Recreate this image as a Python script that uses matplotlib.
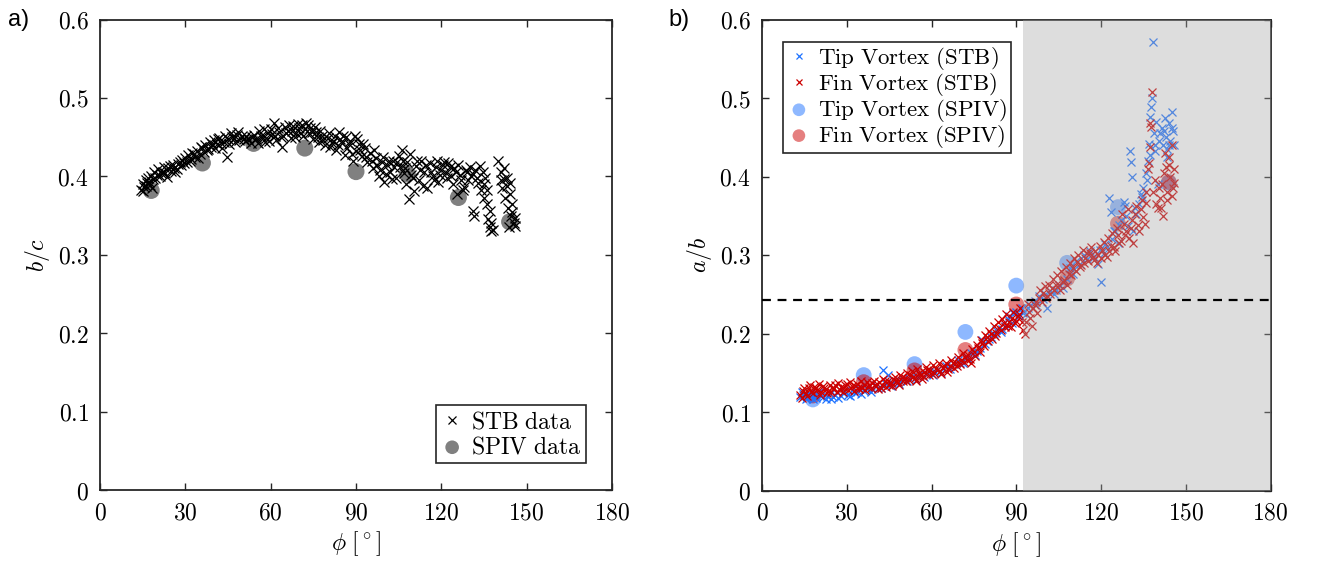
import matplotlib
matplotlib.use("Agg")
import matplotlib.pyplot as plt
import numpy as np

plt.rcParams['mathtext.fontset'] = 'cm'
plt.rcParams['font.family'] = ['DejaVu Serif']

# ---------------- data: panel a) ----------------
stb_a_phi = [14.5, 15, 15.5, 16, 16.5, 17, 17.5, 18, 18.5, 19, 20, 20.5, 21, 22, 22.5, 23, 24, 25, 25.5, 26,
             27, 28, 28.5, 29, 30, 30.5, 31, 32, 33, 33.5, 34, 35, 36, 36.5, 37, 38, 38.5, 39, 40, 41,
             42, 42.5, 43, 44, 44.5, 45, 46, 47, 48, 49, 50, 51, 52, 53, 54, 55, 56, 57, 58, 59,
             60, 61, 61.5, 62, 63, 64, 64.5, 65, 66, 67, 68, 69, 70, 71, 71.5, 72, 73, 73.5, 74, 75,
             76, 77, 78, 79, 80, 81, 82, 83, 84, 85, 86, 86.5, 87, 88, 89, 89.5, 90, 91, 92, 93,
             94, 95, 96, 97, 98, 99, 100, 101, 102, 103, 104, 105, 105.5, 106, 107, 107.5, 108, 108.7, 109, 110,
             110.5, 111, 112, 113, 114, 115, 116, 117, 118, 119, 120, 121, 122, 123, 124, 125, 125.5, 126, 127, 128,
             128.5, 130, 130.5, 131, 131.5, 132, 133, 133.5, 134, 135, 135.5, 136, 136.5, 137, 137.5, 138, 140, 141, 141.5, 142,
             142.5, 143, 143.5, 144, 144.5, 145, 145.5, 146]
stb_a_bc = [0.383, 0.390, 0.386, 0.395, 0.392, 0.398, 0.389, 0.401, 0.396, 0.405, 0.402, 0.409, 0.400, 0.406, 0.412, 0.404, 0.410, 0.407, 0.414, 0.411,
            0.409, 0.418, 0.414, 0.421, 0.424, 0.418, 0.427, 0.422, 0.428, 0.425, 0.432, 0.429, 0.436, 0.431, 0.440, 0.435, 0.444, 0.438, 0.446, 0.441,
            0.449, 0.443, 0.436, 0.452, 0.425, 0.447, 0.455, 0.449, 0.453, 0.446, 0.451, 0.445, 0.448, 0.442, 0.453, 0.447, 0.458, 0.450, 0.444, 0.455,
            0.460, 0.468, 0.452, 0.446, 0.457, 0.437, 0.452, 0.463, 0.458, 0.449, 0.464, 0.455, 0.461, 0.466, 0.452, 0.460, 0.466, 0.455, 0.462, 0.448,
            0.456, 0.444, 0.452, 0.440, 0.449, 0.437, 0.445, 0.433, 0.456, 0.442, 0.427, 0.450, 0.436, 0.445, 0.420, 0.452, 0.432, 0.441, 0.426, 0.436,
            0.418, 0.430, 0.410, 0.424, 0.400, 0.418, 0.393, 0.414, 0.405, 0.420, 0.398, 0.426, 0.412, 0.433, 0.404, 0.390, 0.418, 0.371, 0.428, 0.398,
            0.381, 0.413, 0.395, 0.420, 0.405, 0.385, 0.417, 0.400, 0.412, 0.393, 0.408, 0.418, 0.398, 0.412, 0.390, 0.405, 0.378, 0.415, 0.395, 0.386,
            0.408, 0.412, 0.401, 0.356, 0.349, 0.408, 0.392, 0.413, 0.383, 0.372, 0.398, 0.365, 0.345, 0.335, 0.340, 0.332, 0.419, 0.405, 0.385, 0.396,
            0.372, 0.388, 0.360, 0.378, 0.350, 0.365, 0.340, 0.337]
stb_a_phi_more = [15.2, 16.2, 17.2, 18.2, 19.5, 21.5, 23.5, 24.5, 26.5, 27.5, 29.5, 31.5, 32.5, 34.5, 35.5, 37.5, 39.5, 40.5, 41.5, 43.5,
                  45.5, 46.5, 47.5, 48.5, 50.5, 51.5, 53.5, 55.5, 56.5, 57.5, 58.5, 59.5, 60.5, 62.5, 63.5, 65.5, 66.5, 67.5, 68.5, 69.5,
                  70.5, 72.5, 74.5, 75.5, 76.5, 77.5, 78.5, 80.5, 81.5, 82.5, 83.5, 84.5, 85.5, 87.5, 88.5, 90.5, 91.5, 92.5, 93.5, 95.5,
                  96.5, 97.5, 98.5, 99.5, 100.5, 101.5, 102.5, 103.5, 104.5, 106.5, 107.2, 109.5, 111.5, 112.5, 113.5, 114.5, 116.5, 117.5, 118.5, 119.5,
                  120.5, 121.5, 122.5, 123.5, 124.5, 126.5, 127.5, 129, 129.5, 131, 132.5, 134.5, 135, 136, 137, 137.5, 141, 142, 143, 144,
                  145, 146, 143.8]
stb_a_bc_more = [0.381, 0.388, 0.393, 0.385, 0.398, 0.404, 0.399, 0.413, 0.405, 0.416, 0.417, 0.420, 0.430, 0.424, 0.437, 0.433, 0.441, 0.436, 0.447, 0.444,
                 0.441, 0.450, 0.444, 0.457, 0.447, 0.452, 0.450, 0.443, 0.452, 0.460, 0.449, 0.445, 0.454, 0.461, 0.450, 0.455, 0.466, 0.458, 0.450, 0.467,
                 0.455, 0.468, 0.457, 0.463, 0.450, 0.458, 0.446, 0.455, 0.443, 0.451, 0.440, 0.447, 0.452, 0.441, 0.429, 0.447, 0.433, 0.441, 0.425, 0.420,
                 0.434, 0.414, 0.408, 0.425, 0.403, 0.420, 0.397, 0.412, 0.418, 0.420, 0.410, 0.402, 0.420, 0.408, 0.388, 0.414, 0.405, 0.395, 0.419, 0.402,
                 0.414, 0.404, 0.417, 0.400, 0.411, 0.402, 0.383, 0.405, 0.395, 0.403, 0.398, 0.405, 0.390, 0.382, 0.356, 0.330, 0.395, 0.410, 0.398, 0.392,
                 0.355, 0.347, 0.335]
spiv_phi = [18, 36, 54, 72, 90, 108, 126, 144]
spiv_a_bc = [0.382, 0.417, 0.442, 0.436, 0.406, 0.403, 0.373, 0.342]

# ---------------- data: panel b) ----------------
tip_phi = [13.5, 14.5, 15.5, 16.5, 17.5, 19, 20, 21, 22.5, 24, 25, 26.5, 28, 29, 30.5, 32, 33, 34.5, 36, 37.5,
           39, 40.5, 42, 43, 44, 45.5, 47, 48.5, 50, 51.5, 53, 54.5, 56, 57.5, 59, 60.5, 62, 63.5, 65, 66.5,
           68, 69.5, 71, 72.5, 74, 75.5, 77, 78, 79, 80.5, 82, 83, 84.5, 86, 87, 88.5, 90, 91, 92, 93.5,
           95, 96.5, 98, 99.5, 101, 102, 103.5, 105, 106.5, 108, 109, 110, 111, 112.5, 114, 115, 116, 117.5, 119, 120,
           121, 122, 123, 123.5, 124, 125, 126, 127, 128, 128.6, 129.5, 130.4, 130.6, 130.8, 131.5, 132.5, 133.5, 134.6, 135, 136,
           136.5, 137, 137.2, 137.5, 137.8, 138, 138.4, 138.6, 139, 139.5, 140, 141, 141.5, 142, 142.5, 143, 143.5, 144, 144.5, 145,
           145.5, 146]
tip_ab = [0.119, 0.122, 0.117, 0.124, 0.120, 0.118, 0.126, 0.121, 0.117, 0.123, 0.119, 0.125, 0.120, 0.127, 0.122, 0.128, 0.124, 0.130, 0.127, 0.132,
          0.129, 0.134, 0.131, 0.153, 0.136, 0.133, 0.139, 0.136, 0.142, 0.139, 0.145, 0.141, 0.148, 0.144, 0.151, 0.147, 0.154, 0.150, 0.158, 0.155,
          0.161, 0.166, 0.163, 0.170, 0.175, 0.172, 0.181, 0.192, 0.186, 0.193, 0.199, 0.205, 0.202, 0.210, 0.218, 0.214, 0.228, 0.222, 0.232, 0.225,
          0.236, 0.241, 0.248, 0.244, 0.232, 0.254, 0.250, 0.262, 0.258, 0.270, 0.284, 0.276, 0.292, 0.288, 0.300, 0.295, 0.305, 0.298, 0.288, 0.265,
          0.302, 0.310, 0.373, 0.355, 0.320, 0.330, 0.315, 0.345, 0.368, 0.362, 0.337, 0.432, 0.419, 0.400, 0.330, 0.352, 0.365, 0.374, 0.385, 0.405,
          0.420, 0.441, 0.427, 0.476, 0.488, 0.500, 0.571, 0.455, 0.440, 0.470, 0.390, 0.455, 0.462, 0.440, 0.475, 0.450, 0.435, 0.468, 0.445, 0.482,
          0.458, 0.440]
tip_phi_more = [14, 15, 16, 17, 18, 18.5, 19.5, 21.5, 23, 24.5, 26, 27, 28.5, 31, 33.5, 35, 37, 38.5, 41, 44.5,
                46, 49, 52, 55, 58, 61, 64, 67, 70, 73, 76, 79.5, 81, 85, 87.5, 89, 92.5, 94, 97, 100,
                104, 107, 110.5, 113, 116.5, 119.5, 121.5, 124.5, 126.5, 129, 132, 134, 136.2, 139.2, 140.5, 142.2, 143.2, 144.2, 145.2]
tip_ab_more = [0.125, 0.121, 0.118, 0.123, 0.116, 0.121, 0.124, 0.119, 0.121, 0.117, 0.122, 0.118, 0.124, 0.120, 0.126, 0.123, 0.129, 0.125, 0.131, 0.147,
               0.137, 0.140, 0.143, 0.146, 0.149, 0.152, 0.156, 0.159, 0.163, 0.168, 0.178, 0.190, 0.196, 0.206, 0.222, 0.226, 0.226, 0.232, 0.236, 0.250,
               0.256, 0.265, 0.282, 0.296, 0.300, 0.306, 0.314, 0.330, 0.338, 0.350, 0.360, 0.378, 0.395, 0.432, 0.445, 0.458, 0.425, 0.440, 0.462]
fin_phi = [13.5, 14.5, 15.5, 16.5, 17.5, 18.5, 19.5, 21, 22, 23.5, 25, 26, 27.5, 29, 30, 31.5, 33, 34.5, 36, 37.5,
           39, 40.5, 42, 43.5, 45, 46.5, 48, 49.5, 51, 52.5, 54, 55.5, 57, 58.5, 60, 61.5, 63, 64.5, 66, 67.5,
           69, 70.5, 72, 73.5, 75, 76.5, 78, 79.5, 81, 82.5, 84, 85.5, 87, 88.5, 90, 91, 92.5, 93.5, 94.5, 95.5,
           96.5, 98, 99.5, 101, 102.5, 104, 105.5, 107, 108.5, 110, 111.5, 113, 114.5, 116, 117.5, 119, 120.5, 122, 123.5, 125,
           126, 127, 128, 129, 130, 131, 132, 133, 134, 135, 136, 136.5, 137, 137.2, 137.5, 137.8, 138, 138.5, 139, 140,
           141, 141.5, 142, 142.5, 143, 143.5, 144, 144.5, 145, 145.5, 146]
fin_ab = [0.122, 0.127, 0.124, 0.130, 0.126, 0.132, 0.128, 0.125, 0.131, 0.127, 0.129, 0.134, 0.128, 0.131, 0.136, 0.130, 0.133, 0.129, 0.135, 0.132,
          0.137, 0.133, 0.131, 0.139, 0.135, 0.142, 0.138, 0.144, 0.140, 0.147, 0.143, 0.150, 0.146, 0.153, 0.149, 0.156, 0.152, 0.159, 0.155, 0.162,
          0.158, 0.166, 0.170, 0.167, 0.176, 0.181, 0.188, 0.195, 0.200, 0.197, 0.207, 0.213, 0.210, 0.220, 0.216, 0.225, 0.205, 0.215, 0.228, 0.210,
          0.236, 0.245, 0.252, 0.248, 0.258, 0.262, 0.255, 0.268, 0.276, 0.283, 0.291, 0.287, 0.296, 0.302, 0.294, 0.300, 0.307, 0.298, 0.312, 0.305,
          0.325, 0.318, 0.340, 0.331, 0.322, 0.345, 0.352, 0.338, 0.358, 0.348, 0.366, 0.410, 0.417, 0.438, 0.468, 0.463, 0.508, 0.380, 0.395, 0.360,
          0.372, 0.390, 0.350, 0.430, 0.412, 0.380, 0.425, 0.400, 0.440, 0.385, 0.410]
fin_phi_more = [14, 15, 16, 17, 18, 19, 20, 20.5, 21.5, 22.5, 23, 24, 24.5, 25.5, 26.5, 27, 28, 28.5, 29.5, 30.5,
                31, 32, 32.5, 33.5, 34, 35, 35.5, 36.5, 37, 38, 38.5, 39.5, 40, 41, 41.5, 42.5, 43, 44, 44.5, 45.5,
                46, 47, 47.5, 48.5, 49, 50, 50.5, 51.5, 52, 53, 53.5, 54.5, 55, 56, 56.5, 57.5, 58, 59, 59.5, 60.5,
                61, 62, 62.5, 63.5, 64, 65, 65.5, 66.5, 67, 68, 68.5, 69.5, 70, 71, 71.5, 72.5, 73, 74, 74.5, 75.5,
                76, 77, 77.5, 78.5, 79, 80, 80.5, 81.5, 82, 83, 83.5, 84.5, 85, 86, 86.5, 87.5, 88, 89, 89.5, 90.5,
                91.5, 92, 93, 94, 95, 96, 97, 97.5, 98.5, 99, 100, 100.5, 101.5, 102, 103, 103.5, 104.5, 105, 106, 106.5,
                107.5, 108, 109, 109.5, 110.5, 111, 112, 112.5, 113.5, 114, 115, 115.5, 116.5, 117, 118, 118.5, 119.5, 120, 121, 121.5,
                122.5, 123, 124, 124.5, 125.5, 126.5, 127.5, 128.5, 129.5, 130.5, 131.5, 132.5, 133.5, 134.5, 135.5, 136, 139.5, 140.5, 141.2, 142.2,
                143.2, 144.2, 145.2, 145.8]
fin_ab_more = [0.118, 0.131, 0.121, 0.134, 0.124, 0.130, 0.136, 0.122, 0.133, 0.129, 0.124, 0.134, 0.125, 0.131, 0.126, 0.137, 0.132, 0.125, 0.135, 0.128,
               0.138, 0.133, 0.127, 0.136, 0.131, 0.139, 0.131, 0.128, 0.138, 0.134, 0.130, 0.140, 0.135, 0.129, 0.138, 0.134, 0.142, 0.132, 0.140, 0.137,
               0.133, 0.145, 0.140, 0.135, 0.147, 0.139, 0.143, 0.150, 0.141, 0.152, 0.144, 0.140, 0.155, 0.147, 0.142, 0.151, 0.157, 0.147, 0.154, 0.160,
               0.150, 0.154, 0.162, 0.148, 0.156, 0.163, 0.151, 0.158, 0.166, 0.156, 0.163, 0.170, 0.161, 0.175, 0.164, 0.166, 0.172, 0.163, 0.180, 0.171,
               0.185, 0.177, 0.192, 0.184, 0.198, 0.190, 0.203, 0.193, 0.210, 0.201, 0.215, 0.205, 0.219, 0.208, 0.225, 0.215, 0.208, 0.228, 0.214, 0.222,
               0.232, 0.215, 0.200, 0.238, 0.220, 0.232, 0.240, 0.226, 0.256, 0.240, 0.260, 0.245, 0.262, 0.250, 0.270, 0.255, 0.275, 0.262, 0.280, 0.265,
               0.285, 0.262, 0.290, 0.275, 0.296, 0.280, 0.300, 0.285, 0.306, 0.290, 0.303, 0.292, 0.310, 0.298, 0.305, 0.290, 0.312, 0.296, 0.316, 0.300,
               0.322, 0.305, 0.328, 0.310, 0.334, 0.315, 0.352, 0.325, 0.358, 0.335, 0.315, 0.362, 0.330, 0.370, 0.340, 0.380, 0.365, 0.385, 0.360, 0.405,
               0.370, 0.415, 0.375, 0.392]
spiv_tip_ab = [0.116, 0.147, 0.161, 0.202, 0.261, 0.290, 0.361, 0.392]
spiv_fin_ab = [0.121, 0.138, 0.153, 0.179, 0.237, 0.270, 0.340, 0.393]

threshold = 0.2426
shade_start = 92.4

xticks = [0, 30, 60, 90, 120, 150, 180]
yticks = [0, 0.1, 0.2, 0.3, 0.4, 0.5, 0.6]
xtick_labels = ['$0$', '$30$', '$60$', '$90$', '$120$', '$150$', '$180$']
ytick_labels = ['$0$', '$0.1$', '$0.2$', '$0.3$', '$0.4$', '$0.5$', '$0.6$']

FS = 17
LFS = 17
blue = (0.12, 0.45, 1.0)
red = (0.80, 0.0, 0.0)

fig = plt.figure(figsize=(13.19, 5.69), dpi=100)
ax1 = fig.add_axes([100/1319, 1-490/569, 512/1319, 470.5/569])
ax2 = fig.add_axes([762/1319, 1-490.5/569, 508.5/1319, 471/569])

def style(ax, ylabel):
    ax.set_xlim(0, 180)
    ax.set_ylim(0, 0.6)
    ax.set_xticks(xticks)
    ax.set_xticklabels(xtick_labels)
    ax.set_yticks(yticks)
    ax.set_yticklabels(ytick_labels)
    ax.tick_params(direction='in', top=True, right=True, length=5, width=1,
                   labelsize=FS, pad=8, color='#262626')
    for s in ax.spines.values():
        s.set_linewidth(1.3)
        s.set_color('#262626')
    ax.set_xlabel(r'$\phi\ [^\circ]$', fontsize=FS)
    ax.set_ylabel(ylabel, fontsize=FS)

# panel a
ax1.scatter(spiv_phi, spiv_a_bc, s=150, color=(0.5, 0.5, 0.5), edgecolors='none', zorder=2,
            label=r'$\mathrm{SPIV\ data}$')
ax1.plot(stb_a_phi + stb_a_phi_more, stb_a_bc + stb_a_bc_more, linestyle='none', marker='x',
         markersize=6.5, markeredgewidth=0.9, color='black', zorder=3, label=r'$\mathrm{STB\ data}$')
style(ax1, r'$b/c$')
h, l = ax1.get_legend_handles_labels()
leg1 = ax1.legend([h[1], h[0]], [l[1], l[0]], loc='lower right', bbox_to_anchor=(0.949, 0.057),
                  borderaxespad=0, fontsize=LFS, frameon=True, fancybox=False, handletextpad=0.3,
                  handlelength=1.0, borderpad=0.2, labelspacing=0.1, markerscale=0.8)
leg1.get_frame().set_edgecolor('#262626')
leg1.get_frame().set_linewidth(1.2)
leg1.get_frame().set_alpha(1)

# panel b
ax2.scatter(spiv_phi, spiv_tip_ab, s=130, color=blue, alpha=0.5, edgecolors='none', zorder=2,
            label=r'$\mathrm{Tip\ Vortex\ (SPIV)}$')
ax2.scatter(spiv_phi, spiv_fin_ab, s=130, color=red, alpha=0.5, edgecolors='none', zorder=2,
            label=r'$\mathrm{Fin\ Vortex\ (SPIV)}$')
ax2.plot(tip_phi + tip_phi_more, tip_ab + tip_ab_more, linestyle='none', marker='x', markersize=5.5,
         markeredgewidth=0.9, color=blue, zorder=3, label=r'$\mathrm{Tip\ Vortex\ (STB)}$')
ax2.plot(fin_phi + fin_phi_more, fin_ab + fin_ab_more, linestyle='none', marker='x', markersize=5.5,
         markeredgewidth=0.9, color=red, zorder=3, label=r'$\mathrm{Fin\ Vortex\ (STB)}$')
ax2.axvspan(shade_start, 180, color=(0.66, 0.66, 0.66), alpha=0.38, linewidth=0, zorder=4)
ax2.axhline(threshold, color='black', linestyle=(0, (4, 3)), linewidth=1.6, zorder=5)
style(ax2, r'$a/b$')
h, l = ax2.get_legend_handles_labels()
leg2 = ax2.legend([h[2], h[3], h[0], h[1]], [l[2], l[3], l[0], l[1]], loc='upper left',
                  bbox_to_anchor=(0.041, 0.953), borderaxespad=0, fontsize=16.5, frameon=True,
                  fancybox=False, handletextpad=0.3, handlelength=1.1, borderpad=0.15,
                  labelspacing=-0.05, markerscale=0.8)
leg2.get_frame().set_edgecolor('#262626')
leg2.get_frame().set_linewidth(1.2)
leg2.get_frame().set_alpha(1)
leg2.set_zorder(10)

fig.text(8/1319, 1-20/569, 'a)', fontsize=17, family='Liberation Sans', va='center', ha='left')
fig.text(668/1319, 1-20/569, 'b)', fontsize=17, family='Liberation Sans', va='center', ha='left')

fig.savefig('out.png', dpi=100)
